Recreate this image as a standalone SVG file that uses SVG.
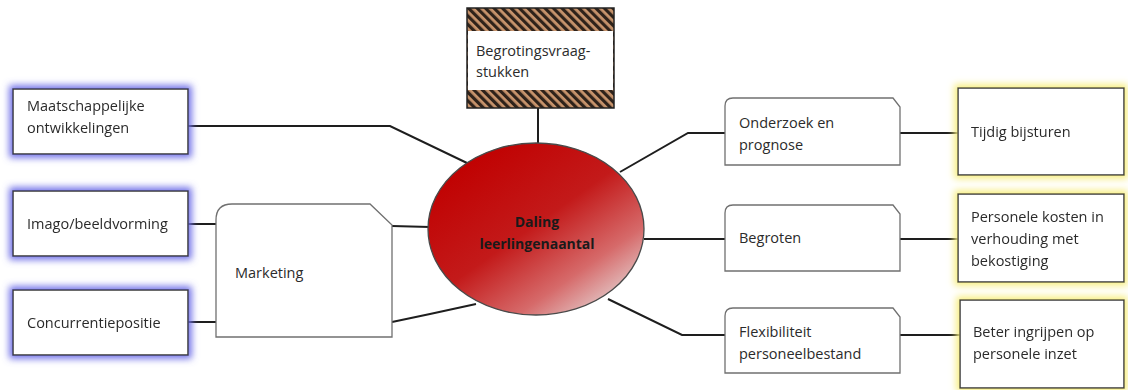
<svg xmlns="http://www.w3.org/2000/svg" width="1128" height="390" viewBox="0 0 1128 390">
<style>
.t{font-family:"Open Sans","Liberation Sans",sans-serif;font-size:14.5px;fill:#2b2b2b}
.b{font-weight:bold;fill:#1a1a1a;font-size:14px}
.box{fill:#fff;stroke:#3a3a3a;stroke-width:1.5}
.tab{fill:#fff;stroke:#707070;stroke-width:1.3}
.c{fill:none;stroke:#1e1e1e;stroke-width:2}
</style>
<defs>
<filter id="gb" x="-20%" y="-30%" width="140%" height="160%">
<feMorphology in="SourceAlpha" operator="dilate" radius="3" result="d"/>
<feGaussianBlur in="d" stdDeviation="3.5" result="bl"/>
<feFlood flood-color="#7070e8"/>
<feComposite in2="bl" operator="in" result="g"/>
<feMerge><feMergeNode in="g"/><feMergeNode in="SourceGraphic"/></feMerge>
</filter>
<filter id="gy" x="-20%" y="-30%" width="140%" height="160%">
<feMorphology in="SourceAlpha" operator="dilate" radius="3" result="d"/>
<feGaussianBlur in="d" stdDeviation="3.5" result="bl"/>
<feFlood flood-color="#f7ee80"/>
<feComposite in2="bl" operator="in" result="g"/>
<feMerge><feMergeNode in="g"/><feMergeNode in="SourceGraphic"/></feMerge>
</filter>
<pattern id="hatch" width="6" height="6" patternUnits="userSpaceOnUse" patternTransform="rotate(-45)">
<rect width="6" height="6" fill="#c8946c"/>
<rect width="3.2" height="6" fill="#2e221a"/>
</pattern>
<linearGradient id="rg" x1="0.15" y1="0.1" x2="0.9" y2="0.95">
<stop offset="0" stop-color="#c00000"/>
<stop offset="0.45" stop-color="#c31a1a"/>
<stop offset="0.75" stop-color="#d66a6a"/>
<stop offset="1" stop-color="#e6dada"/>
</linearGradient>
</defs>

<g id="connectors">
<polyline class="c" points="188,126 390,126 467,163"/>
<line class="c" x1="538" y1="108" x2="538" y2="143"/>
<line class="c" x1="188" y1="224" x2="216" y2="224"/>
<line class="c" x1="188" y1="322" x2="216" y2="322"/>
<line class="c" x1="392" y1="226" x2="430" y2="227"/>
<polyline class="c" points="392,322 430,314 476,304"/>
<polyline class="c" points="620,172 688,133 725,133"/>
<line class="c" x1="644" y1="239" x2="725" y2="239"/>
<polyline class="c" points="608,299 682,335 725,335"/>
<line class="c" x1="900" y1="133" x2="958" y2="133"/>
<line class="c" x1="900" y1="239" x2="958" y2="239"/>
<line class="c" x1="900" y1="335" x2="960" y2="335"/>
</g>

<g id="begrotingsvraagstukken">
<rect x="467" y="8" width="147" height="100" fill="url(#hatch)" stroke="#222" stroke-width="1.5"/>
<rect x="468" y="31" width="145" height="59" fill="#fff"/>
<text class="t" x="476" y="56">Begrotingsvraag-</text>
<text class="t" x="476" y="77">stukken</text>
</g>

<g id="maatschappelijke" filter="url(#gb)">
<rect class="box" x="13" y="89" width="175" height="65"/>
<text class="t" x="27" y="111">Maatschappelijke</text>
<text class="t" x="27" y="133">ontwikkelingen</text>
</g>

<g id="imago" filter="url(#gb)">
<rect class="box" x="13" y="191" width="175" height="65"/>
<text class="t" x="27" y="229">Imago/beeldvorming</text>
</g>

<g id="concurrentie" filter="url(#gb)">
<rect class="box" x="13" y="290" width="175" height="65"/>
<text class="t" x="27" y="328">Concurrentiepositie</text>
</g>

<g id="marketing">
<path class="tab" d="M216,337 V220 Q216,204 232,204 H370 L392,225 V337 Z"/>
<text class="t" x="235" y="278">Marketing</text>
</g>

<g id="daling">
<ellipse cx="536" cy="229" rx="108" ry="86" fill="url(#rg)" stroke="#4a4a4a" stroke-width="1.3"/>
<text class="t b" x="537" y="227" text-anchor="middle">Daling</text>
<text class="t b" x="537" y="249" text-anchor="middle">leerlingenaantal</text>
</g>

<g id="onderzoek">
<path class="tab" d="M725,165 V106 Q725,98 733,98 H893 L900,107 V165 Z"/>
<text class="t" x="739" y="128">Onderzoek en</text>
<text class="t" x="739" y="150">prognose</text>
</g>

<g id="begroten">
<path class="tab" d="M725,271 V213 Q725,205 733,205 H893 L900,214 V271 Z"/>
<text class="t" x="739" y="243">Begroten</text>
</g>

<g id="flexibiliteit">
<path class="tab" d="M725,373 V316 Q725,308 733,308 H893 L900,317 V373 Z"/>
<text class="t" x="739" y="337">Flexibiliteit</text>
<text class="t" x="739" y="359">personeelbestand</text>
</g>

<g id="tijdig" filter="url(#gy)">
<rect class="box" x="958" y="88" width="166" height="87"/>
<text class="t" x="971" y="137">Tijdig bijsturen</text>
</g>

<g id="personele" filter="url(#gy)">
<rect class="box" x="958" y="194" width="166" height="88"/>
<text class="t" x="971" y="222">Personele kosten in</text>
<text class="t" x="971" y="244">verhouding met</text>
<text class="t" x="971" y="266">bekostiging</text>
</g>

<g id="beter" filter="url(#gy)">
<rect class="box" x="960" y="300" width="164" height="88"/>
<text class="t" x="973" y="337">Beter ingrijpen op</text>
<text class="t" x="973" y="359">personele inzet</text>
</g>
</svg>
